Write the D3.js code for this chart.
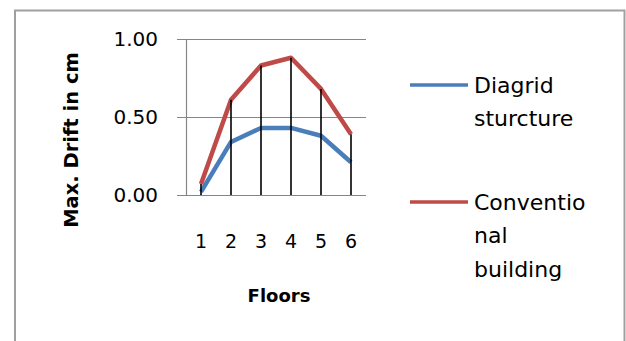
<!DOCTYPE html>
<meta charset="utf-8">
<title>Max. Drift</title>
<style>
  body { margin: 0; background: #fff; }
  text { font-family: "DejaVu Sans", sans-serif; fill: #000; }
</style>
<body>
<div id="chart"></div>
<script src="https://d3js.org/d3.v7.min.js"></script>
<script>
// data
var floors = ["1", "2", "3", "4", "5", "6"];
var diagrid = [0.02, 0.34, 0.43, 0.43, 0.38, 0.21];
var conventional = [0.07, 0.61, 0.83, 0.88, 0.68, 0.39];
var yTicks = [0, 0.5, 1];
var seriesNames = [["Diagrid", "sturcture"], ["Conventio", "nal", "building"]];
var colors = ["#4a7ebb", "#be4b48"];

var W = 626, H = 341;
var svg = d3.select("#chart").append("svg")
  .attr("width", W).attr("height", H);

// outer frame
svg.append("path")
  .attr("d", "M15,341 V10.5 H624.5 V341")
  .attr("fill", "none")
  .attr("stroke", "#a0a0a0")
  .attr("stroke-width", 2);

var x = d3.scaleBand().domain(floors).range([186, 366]);
var y = d3.scaleLinear().domain([0, 1]).range([195, 39]);
var cx = function(d, i) { return x(floors[i]) + x.bandwidth() / 2; };

// gridlines + ticks
svg.append("g").selectAll("line").data(yTicks).enter().append("line")
  .attr("x1", 177).attr("x2", 366)
  .attr("y1", function(d) { return Math.round(y(d)) + 0.5; })
  .attr("y2", function(d) { return Math.round(y(d)) + 0.5; })
  .attr("stroke", "#868686").attr("stroke-width", 1.2);

svg.append("line")
  .attr("x1", 186.5).attr("x2", 186.5)
  .attr("y1", y(1)).attr("y2", y(0))
  .attr("stroke", "#868686").attr("stroke-width", 1.2);

// y axis labels
var yAxis = d3.axisLeft(y).tickValues(yTicks).tickFormat(d3.format(".2f")).tickSize(0).tickPadding(0);
var gy = svg.append("g").attr("transform", "translate(158,0)").call(yAxis);
gy.select(".domain").remove();
gy.selectAll("text").style("font-size", "20px").style("font-family", "DejaVu Sans").attr("fill", "#000");

// x axis labels
var xAxis = d3.axisBottom(x).tickSize(0).tickPadding(0);
var gx = svg.append("g").attr("transform", "translate(0,234)").call(xAxis);
gx.select(".domain").remove();
gx.selectAll("text").style("font-size", "19px").style("font-family", "DejaVu Sans").attr("fill", "#000");

// axis titles
svg.append("text")
  .attr("transform", "translate(78,140) rotate(-90)")
  .attr("text-anchor", "middle")
  .style("font-size", "19.5px").style("font-weight", "bold")
  .text("Max. Drift in cm");

svg.append("text")
  .attr("x", 279).attr("y", 302)
  .attr("text-anchor", "middle")
  .style("font-size", "18px").style("font-weight", "bold")
  .text("Floors");

// series
var line = d3.line().x(cx).y(function(d) { return y(d); });
[diagrid, conventional].forEach(function(s, k) {
  svg.append("path")
    .datum(s)
    .attr("d", line)
    .attr("fill", "none")
    .attr("stroke", colors[k])
    .attr("stroke-width", 4.5)
    .attr("stroke-linejoin", "round");
});

// drop lines from the top series to the axis
svg.append("g").selectAll("line").data(floors).enter().append("line")
  .attr("x1", function(d, i) { return cx(d, i); })
  .attr("x2", function(d, i) { return cx(d, i); })
  .attr("y1", function(d, i) { return y(Math.max(diagrid[i], conventional[i])); })
  .attr("y2", y(0))
  .attr("stroke", "#000").attr("stroke-width", 1.6);

// legend
var legendY = [85, 202];
seriesNames.forEach(function(lines, k) {
  var g = svg.append("g");
  g.append("line")
    .attr("x1", 410).attr("x2", 468)
    .attr("y1", legendY[k]).attr("y2", legendY[k])
    .attr("stroke", colors[k]).attr("stroke-width", 3.5);
  lines.forEach(function(t, j) {
    g.append("text")
      .attr("x", 474).attr("y", legendY[k] + j * 33.5)
      .attr("dy", "0.35em")
      .style("font-size", "22px")
      .text(t);
  });
});
</script>
</body>
